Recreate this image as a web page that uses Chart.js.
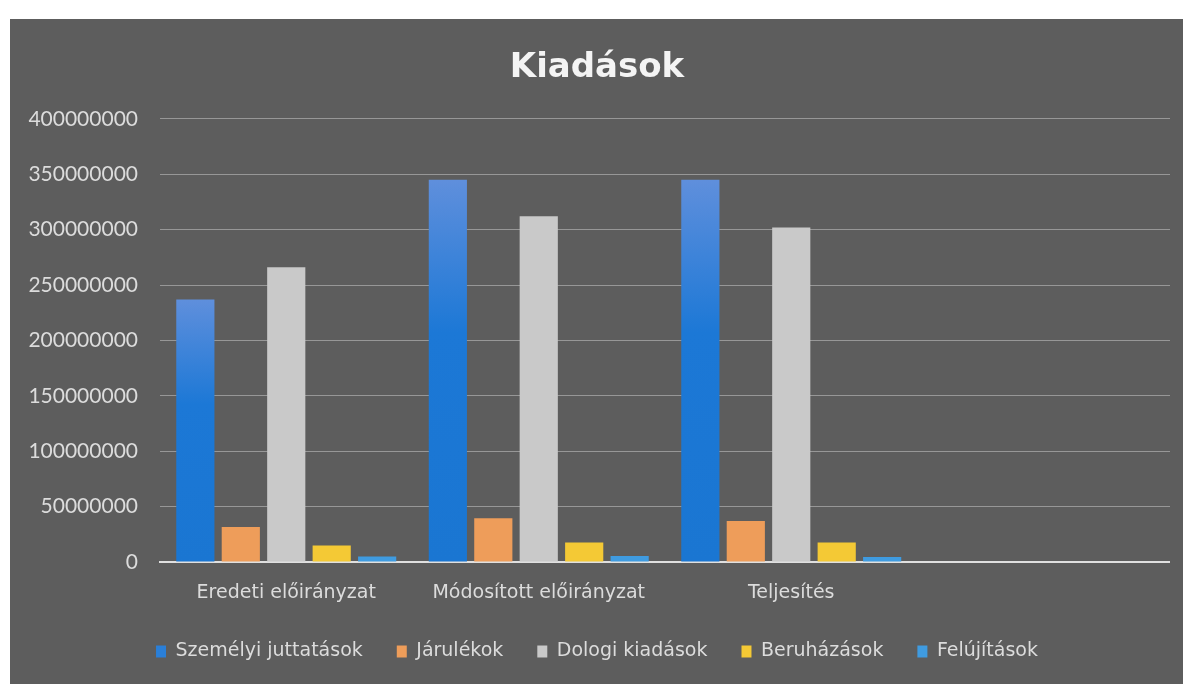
<!DOCTYPE html>
<html>
<head>
<meta charset="utf-8">
<script src="https://cdn.jsdelivr.net/npm/chart.js@4/dist/chart.umd.min.js"></script>
<style>
  body { margin: 0; background: #ffffff; }
  #wrap {
    position: absolute; left: 10px; top: 19px;
    width: 1173px; height: 665px;
    background: #5d5d5d;
  }
  #box { position: absolute; left: 0; top: 0; width: 1160px; height: 665px; }
</style>
</head>
<body>
<div id="wrap"><div id="box"><canvas id="chart"></canvas></div></div>
<script>
// categories (the fourth slot is empty in the original chart)
var categories = ["Eredeti előirányzat", "Módosított előirányzat", "Teljesítés", ""];

// series values (Ft)
var szemelyi = [237000000, 345000000, 345000000, null];
var jarulekok = [31500000, 39500000, 37000000, null];
var dologi = [266000000, 312000000, 302000000, null];
var beruhazasok = [15000000, 17500000, 17500000, null];
var felujitasok = [5000000, 5500000, 4500000, null];

var yTicks = [0, 50000000, 100000000, 150000000, 200000000, 250000000, 300000000, 350000000, 400000000];

var textColor = "#dcdcdc";

// blue bars fade from light at top to deeper blue in the middle
function blueGradient(context) {
  var chart = context.chart;
  if (!chart.chartArea || context.parsed == null || context.parsed.y == null) return "#1f77d4";
  var y = chart.scales.y;
  var top = y.getPixelForValue(context.parsed.y);
  var bottom = y.getPixelForValue(0);
  var g = chart.ctx.createLinearGradient(0, top, 0, bottom);
  g.addColorStop(0, "#5f8fdc");
  g.addColorStop(0.4, "#1c78d6");
  g.addColorStop(1, "#1a76d2");
  return g;
}

new Chart(document.getElementById("chart"), {
  type: "bar",
  data: {
    labels: categories,
    datasets: [
      { label: "Személyi juttatások", data: szemelyi, backgroundColor: blueGradient },
      { label: "Járulékok", data: jarulekok, backgroundColor: "#ee9d5a" },
      { label: "Dologi kiadások", data: dologi, backgroundColor: "#c9c9c9" },
      { label: "Beruházások", data: beruhazasok, backgroundColor: "#f4c935" },
      { label: "Felújítások", data: felujitasok, backgroundColor: "#3f9be0" }
    ]
  },
  options: {
    responsive: true,
    maintainAspectRatio: false,
    animation: false,
    datasets: {
      bar: { categoryPercentage: 0.9, barPercentage: 0.84 }
    },
    layout: { padding: { left: 14, right: 0, top: 29, bottom: 13 } },
    plugins: {
      title: {
        display: true,
        text: "Kiadások",
        color: "#f4f4f4",
        font: { family: "DejaVu Sans", size: 34, weight: "bold" },
        padding: { top: 0, bottom: 30 }
      },
      legend: {
        position: "bottom",
        labels: {
          color: textColor,
          font: { family: "DejaVu Sans", size: 19 },
          boxWidth: 10,
          boxHeight: 12,
          padding: 34,
          generateLabels: function (chart) {
            var items = Chart.defaults.plugins.legend.labels.generateLabels(chart);
            items[0].fillStyle = "#2a7fd8";
            items.forEach(function (it) { it.strokeStyle = "rgba(0,0,0,0)"; it.lineWidth = 0; });
            return items;
          }
        }
      },
      tooltip: { enabled: false }
    },
    scales: {
      x: {
        afterFit: function (axis) { axis.height = 46; },
        grid: { display: false, drawTicks: false },
        border: { color: "#e0e0e0", width: 2 },
        ticks: {
          color: textColor,
          font: { family: "DejaVu Sans", size: 19 },
          padding: 20,
          maxRotation: 0,
          autoSkip: false
        }
      },
      y: {
        min: 0,
        max: 400000000,
        afterBuildTicks: function (axis) {
          axis.ticks = yTicks.map(function (v) { return { value: v }; });
        },
        afterFit: function (axis) { axis.width = 136; },
        grid: { color: "#979797", lineWidth: 1, drawTicks: false },
        border: { display: false },
        ticks: {
          color: textColor,
          font: { family: "Lato", size: 21 },
          padding: 22,
          callback: function (v) { return String(v); }
        }
      }
    }
  }
});
</script>
</body>
</html>
